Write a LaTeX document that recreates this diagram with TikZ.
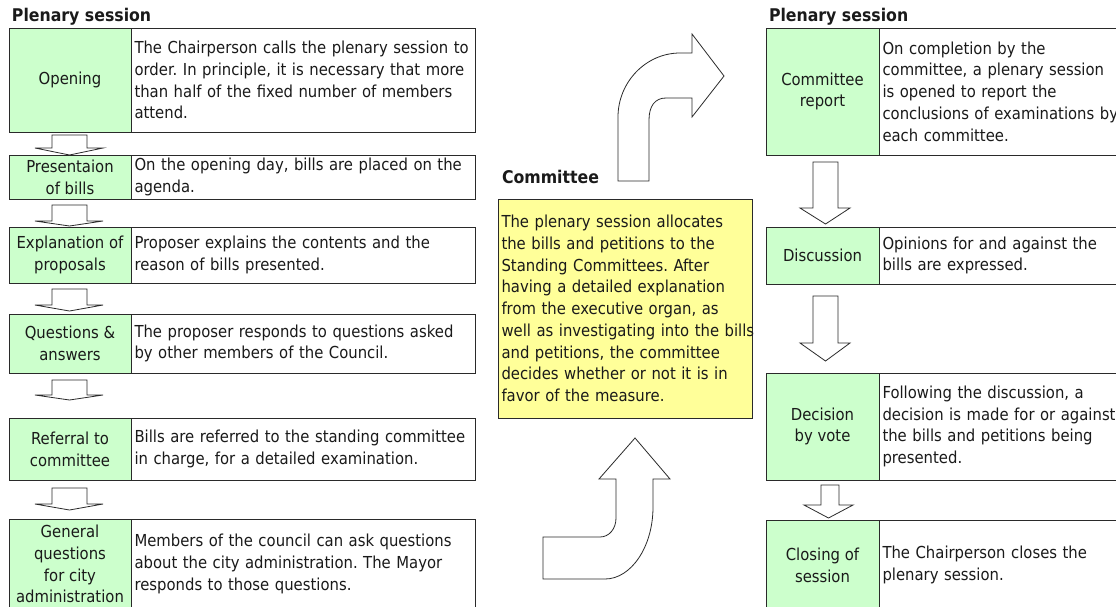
\documentclass[tikz,border=0pt]{standalone}
\usepackage{fontspec}
\setmainfont{DejaVu Sans}[FakeStretch=0.9]
\usetikzlibrary{calc}
\definecolor{lgreen}{HTML}{CCFFCC}
\definecolor{lyellow}{HTML}{FFFF99}
\definecolor{edge}{HTML}{2A2A2A}
\definecolor{txt}{HTML}{1A1A1A}
\frenchspacing
\hbadness=10000 \hfuzz=50pt
\begin{document}
\begin{tikzpicture}[x=1pt,y=-1pt,
  every node/.style={inner sep=0pt, outer sep=0pt, text=txt, font=\fontsize{16.5}{21.7}\selectfont},
  lab/.style={draw=edge, line width=1pt, fill=lgreen, align=center, anchor=north west},
  desc/.style={draw=edge, line width=1pt, fill=white, align=left, anchor=north west, inner xsep=3.5pt},
  ttl/.style={font=\fontsize{17.5}{21}\selectfont\bfseries, anchor=west},
  barrow/.style={draw=edge, line width=0.8pt, fill=white, line join=miter},
]
\useasboundingbox (0,0) rectangle (1116,606);
\clip (0,0) rectangle (1116,606);
\fill[white] (0,0) rectangle (1116,606);

% ---------- left column ----------
\node[ttl] (tl) at (12,17) {Plenary session};

\node[lab, minimum width=122pt, minimum height=104pt] (op) at (9,28) {Opening};
\node[desc, minimum width=344pt, minimum height=104pt, text width=337pt] (opd) at (op.north east)
  {The Chairperson calls the plenary session to\\order. In principle, it is necessary that more\\than half of the fixed number of members\\attend.};

\node[lab, minimum width=122pt, minimum height=44pt] (pr) at (9,155) {Presentaion\\of bills};
\node[desc, minimum width=344pt, minimum height=44pt, text width=337pt] (prd) at (pr.north east)
  {On the opening day, bills are placed on the\\agenda.};

\node[lab, minimum width=122pt, minimum height=56pt] (ex) at (9,227) {Explanation of\\proposals};
\node[desc, minimum width=344pt, minimum height=56pt, text width=337pt] (exd) at (ex.north east)
  {Proposer explains the contents and the\\reason of bills presented.};

\node[lab, minimum width=122pt, minimum height=59pt] (qa) at (9,314) {Questions \&\\answers};
\node[desc, minimum width=344pt, minimum height=59pt, text width=337pt] (qad) at (qa.north east)
  {The proposer responds to questions asked\\by other members of the Council.};

\node[lab, minimum width=122pt, minimum height=62pt] (rf) at (9,418) {Referral to\\committee};
\node[desc, minimum width=344pt, minimum height=62pt, text width=337pt] (rfd) at (rf.north east)
  {Bills are referred to the standing committee\\in charge, for a detailed examination.};

\node[lab, minimum width=122pt, minimum height=90pt] (gq) at (9,519) {General\\questions\\for city\\administration};
\node[desc, minimum width=344pt, minimum height=90pt, text width=337pt] (gqd) at (gq.north east)
  {Members of the council can ask questions\\about the city administration. The Mayor\\responds to those questions.};

% small flat block arrows (left)
\foreach \t/\w/\p in {135/148/155, 205/221/226, 289/305/311, 380/395/400, 488/504/510}{
  \draw[barrow] (52,\t) -- (87,\t) -- (87,\w) -- (103,\w) -- (69.5,\p) -- (35,\w) -- (52,\w) -- cycle;
}

% ---------- middle ----------
\node[ttl] (tc) at (502,177) {Committee};
\node[draw=edge, line width=1pt, fill=lyellow, align=left, anchor=north west, inner xsep=3.5pt,
      minimum width=254pt, minimum height=219pt, text width=247pt] (cm) at (498,199)
  {The plenary session allocates\\the bills and petitions to the\\Standing Committees. After\\having a detailed explanation\\from the executive organ, as\\\mbox{well as investigating into the bills}\\and petitions, the committee\\decides whether or not it is in\\favor of the measure.};

% curved arrow up to committee
\draw[barrow] (635,438) -- (670,479) -- (653,479) -- (653,507)
  .. controls (653,547) and (631,579) .. (605,579) -- (543,579) -- (543,537) -- (600,537)
  .. controls (609,537) and (616,529) .. (616,518) -- (616,479) -- (599,479) -- cycle;

% curved arrow from committee to plenary
\draw[barrow] (618,181) -- (618,117)
  .. controls (618,82) and (646,53) .. (680,53) -- (692,53) -- (692,34) -- (724,76)
  -- (692,117) -- (692,98) -- (666,98)
  .. controls (655,98) and (649,106) .. (649,120) -- (649,181) -- cycle;

% ---------- right column ----------
\node[ttl] (tr) at (769,17) {Plenary session};

\node[lab, minimum width=113pt, minimum height=127pt] (cr) at (766,28) {Committee\\report};
\node[desc, minimum width=260pt, minimum height=127pt, text width=253pt] (crd) at (cr.north east)
  {On completion by the\\committee, a plenary session\\is opened to report the\\conclusions of examinations by\\each committee.};

\node[lab, minimum width=113pt, minimum height=57pt] (di) at (766,227) {Discussion};
\node[desc, minimum width=260pt, minimum height=57pt, text width=253pt] (did) at (di.north east)
  {Opinions for and against the\\bills are expressed.};

\node[lab, minimum width=113pt, minimum height=107pt] (dv) at (766,373) {Decision\\by vote};
\node[desc, minimum width=260pt, minimum height=107pt, text width=253pt] (dvd) at (dv.north east)
  {Following the discussion, a\\decision is made for or against\\the bills and petitions being\\presented.};

\node[lab, minimum width=113pt, minimum height=90pt] (cs) at (766,520) {Closing of\\session};
\node[desc, minimum width=260pt, minimum height=90pt, text width=253pt] (csd) at (cs.north east)
  {The Chairperson closes the\\plenary session.};

% right block arrows
\draw[barrow] (813,162) -- (838,162) -- (838,208) -- (850,208) -- (825.5,224) -- (800,208) -- (813,208) -- cycle;
\draw[barrow] (813,296) -- (838,296) -- (838,343) -- (850,343) -- (825.5,361) -- (800,343) -- (813,343) -- cycle;
\draw[barrow] (821,485) -- (839,485) -- (839,505) -- (853,505) -- (828.5,518) -- (804,505) -- (821,505) -- cycle;
\end{tikzpicture}
\end{document}
